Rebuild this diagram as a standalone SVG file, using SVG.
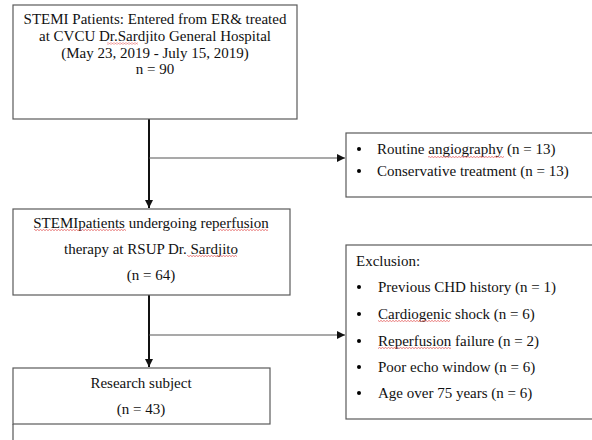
<svg xmlns="http://www.w3.org/2000/svg" width="592" height="440" viewBox="0 0 592 440">
<defs>
<style>
.box{fill:#fff;stroke:#5a5a5a;stroke-width:1.2}
.t{font-family:"Liberation Serif","Times New Roman",serif;font-size:15px;fill:#111}
.c{text-anchor:middle}
.v{stroke:#111;stroke-width:2;fill:none}
.h{stroke:#555;stroke-width:1.2;fill:none}
.sq{fill:url(#zig)}
</style>
<marker id="arr" viewBox="0 0 10 10" refX="10" refY="5" markerWidth="8" markerHeight="8" markerUnits="userSpaceOnUse" orient="auto">
<path d="M0,0 L10,5 L0,10 z" fill="#111"/>
</marker>
<pattern id="zig" width="3" height="2" patternUnits="userSpaceOnUse">
<path d="M0,0 L1.5,2 L3,0" stroke="#e05050" stroke-width="0.6" fill="none"/>
</pattern>
</defs>
<rect width="592" height="440" fill="#fff"/>
<g id="connectors">
<line class="v" x1="149" y1="119" x2="149" y2="208" marker-end="url(#arr)"/>
<line class="h" x1="149" y1="158" x2="345" y2="158" marker-end="url(#arr)"/>
<line class="v" x1="149" y1="295" x2="149" y2="367" marker-end="url(#arr)"/>
<line class="h" x1="149" y1="335" x2="345" y2="335" marker-end="url(#arr)"/>
</g>
<g id="node-stemi">
<rect class="box" x="13" y="5" width="284" height="114"/>
<text class="t c" x="155" y="24">STEMI Patients: Entered from ER&amp; treated</text>
<text class="t c" x="155" y="41">at CVCU Dr.Sardjito General Hospital</text>
<text class="t c" x="155" y="58">(May 23, 2019 - July 15, 2019)</text>
<text class="t c" x="155" y="74">n = 90</text>
<rect class="sq" x="107" y="42.5" width="31" height="2"/>
</g>
<g id="node-excluded1">
<rect class="box" x="346" y="133" width="250" height="64"/>
<circle cx="359" cy="149" r="2"/>
<circle cx="359" cy="171" r="2"/>
<text class="t" x="377" y="154">Routine angiography (n = 13)</text>
<text class="t" x="377" y="176">Conservative treatment (n = 13)</text>
<rect class="sq" x="428" y="156" width="76" height="2"/>
</g>
<g id="node-reperfusion">
<rect class="box" x="13" y="209" width="277" height="86"/>
<text class="t c" x="151" y="228">STEMIpatients undergoing reperfusion</text>
<text class="t c" x="151" y="254">therapy at RSUP Dr. Sardjito</text>
<text class="t c" x="151" y="280">(n = 64)</text>
<rect class="sq" x="34" y="229" width="92" height="2"/>
<rect class="sq" x="218" y="229" width="50" height="2"/>
<rect class="sq" x="187" y="255" width="50" height="2"/>
</g>
<g id="node-exclusion">
<rect class="box" x="346" y="245" width="250" height="174"/>
<text class="t" x="356" y="266">Exclusion:</text>
<circle cx="359" cy="287" r="2"/>
<circle cx="359" cy="314" r="2"/>
<circle cx="359" cy="341" r="2"/>
<circle cx="359" cy="367" r="2"/>
<circle cx="359" cy="393" r="2"/>
<text class="t" x="378" y="292">Previous CHD history (n = 1)</text>
<text class="t" x="378" y="319">Cardiogenic shock (n = 6)</text>
<text class="t" x="378" y="346">Reperfusion failure (n = 2)</text>
<text class="t" x="378" y="372">Poor echo window (n = 6)</text>
<text class="t" x="378" y="398">Age over 75 years (n = 6)</text>
<rect class="sq" x="378" y="320" width="72" height="2"/>
<rect class="sq" x="378" y="347" width="73" height="2"/>
</g>
<g id="node-research">
<rect class="box" x="13" y="368" width="257" height="56"/>
<line class="h" x1="13" y1="424" x2="13" y2="440"/>
<text class="t c" x="141" y="388">Research subject</text>
<text class="t c" x="141" y="414">(n = 43)</text>
</g>
</svg>
